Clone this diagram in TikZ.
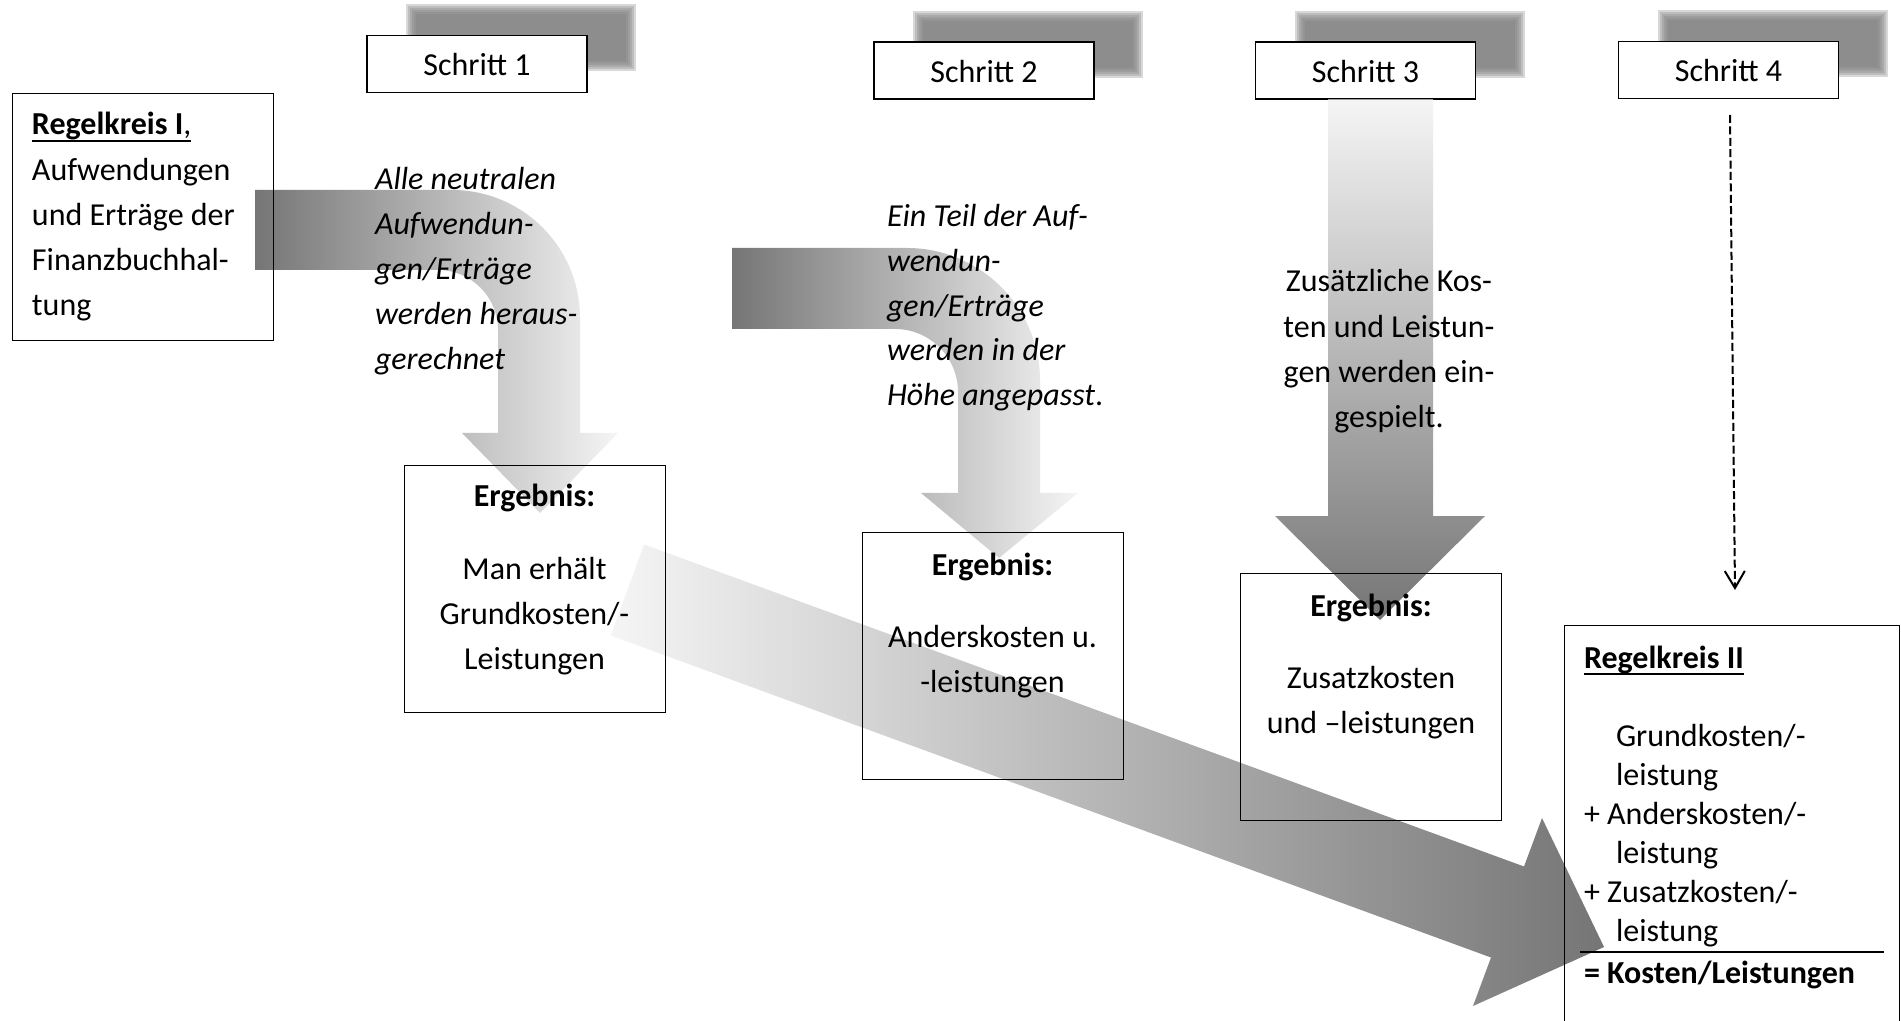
\documentclass[tikz,border=0pt]{standalone}
\usepackage{fontspec}
\setmainfont{Carlito}
\usetikzlibrary{arrows.meta}
\definecolor{gdark}{gray}{0.46}
\definecolor{glight}{gray}{0.96}
\definecolor{shadowg}{gray}{0.5}
\newcommand{\fs}{\fontsize{16pt}{22.5pt}\selectfont}
\newcommand{\myul}[1]{\setbox0=\hbox{#1}\rlap{\rule[-3.5pt]{\wd0}{1.2pt}}\box0}
\tikzset{
  txt/.style={font=\fs, inner sep=0pt, outer sep=0pt, yshift=-1.5pt},
  itxt/.style={font=\fs\itshape, inner sep=0pt, outer sep=0pt, yshift=-1.5pt},
  btxt/.style={font=\fs\bfseries, inner sep=0pt, outer sep=0pt, yshift=-1.5pt},
  frame/.style={draw=black, line width=0.7pt, inner sep=0pt, rectangle},
  stepbox/.style={frame, fill=white, minimum width=110pt, minimum height=28.5pt, font=\fs, text height=12pt, text depth=0pt},
  resbox/.style={frame, minimum width=130.5pt, minimum height=123.5pt, anchor=north west},
  shadowlayer/.style={fill=shadowg, fill opacity=0.3},
  gradh/.style={left color=gdark, right color=glight},
  gradbig/.style={left color=glight, right color=gdark},
  gradv/.style={top color=glight, bottom color=gdark},
  dasharrow/.style={line width=1pt, dash pattern=on 4pt off 1.7pt, -{Straight Barb[length=8.5pt,width=10pt]}},
}
\begin{document}
\begin{tikzpicture}[x=0.5pt, y=-0.5pt]
\useasboundingbox (0,0) rectangle (1901,1021);
\clip (0,0) rectangle (1901,1021);
\fill[white] (0,0) rectangle (1901,1021);

% blurred shadows behind the step boxes
\foreach \sx/\sy in {411/9, 918/16, 1300/16, 1663/15} {
  \foreach \d in {5,3,1,-1,-3,-5} {
    \fill[shadowlayer] (\sx-\d,\sy-\d) rectangle (\sx+220+\d,\sy+57+\d);
  }
}

% step boxes
\node[stepbox] (s1) at (477,64) {Schritt 1};
\node[stepbox] (s2) at (984,70.5) {Schritt 2};
\node[stepbox] (s3) at (1365.5,70.5) {Schritt 3};
\node[stepbox] (s4) at (1728.5,70) {Schritt 4};

% bent arrow 1
\shade[gradh] (255,190) -- (452,190) .. controls (522.7,190) and (580,247.3) .. (580,318)
  -- (580,433) -- (618,433) -- (540,513) -- (462,433) -- (498,433) -- (498,330)
  .. controls (498,296.9) and (471.1,270) .. (438,270) -- (255,270) -- cycle;

% bent arrow 2
\shade[gradh] (732,248) -- (907,248) .. controls (980.5,248) and (1040,307.5) .. (1040,381)
  -- (1040,493) -- (1078,493) -- (999,558) -- (921,493) -- (958,493) -- (958,392)
  .. controls (958,357.2) and (929.8,329) .. (895,329) -- (732,329) -- cycle;

% straight arrow 3
\shade[gradv] (1328,99.5) -- (1433,99.5) -- (1433,516) -- (1485,516) -- (1380,620)
  -- (1275,516) -- (1328,516) -- cycle;

% big diagonal arrow
\shade[gradbig] (644.2,544.5) -- (1524,866.5) -- (1542,818) -- (1604,947) -- (1473,1006)
  -- (1491,957.5) -- (610.8,635.5) -- cycle;

% Regelkreis I
\node[frame, minimum width=130.5pt, minimum height=123.5pt, anchor=north west] (rk1) at (12,93) {};
\node[txt, anchor=base west] (rk1a) at (32,132) {\myul{\textbf{Regelkreis I},}};
\node[txt, anchor=base west] (rk1b) at (32,177.5) {Aufwendungen};
\node[txt, anchor=base west] (rk1c) at (32,223) {und Erträge der};
\node[txt, anchor=base west] (rk1d) at (32,268) {Finanzbuchhal-};
\node[txt, anchor=base west] (rk1e) at (32,313) {tung};

% italic text step 1
\foreach \t [count=\i from 0] in {{Alle neutralen},{Aufwendun-},{gen/Erträge},{werden heraus-},{gerechnet}}
  \node[itxt, anchor=base west] (ta\i) at (375,187+45*\i) {\t};

% italic text step 2
\foreach \t [count=\i from 0] in {{Ein Teil der Auf-},{wendun-},{gen/Erträge},{werden in der}}
  \node[itxt, anchor=base west] (tb\i) at (887,224+44.6*\i) {\t};
\node[txt, anchor=base west] (tb4) at (887,402.5) {\textit{Höhe angepasst}.};

% text step 3
\foreach \t [count=\i from 0] in {{Zusätzliche Kos-},{ten und Leistun-},{gen werden ein-},{gespielt.}}
  \node[txt, anchor=base] (tc\i) at (1389,289+45.3*\i) {\t};

% result boxes
\node[resbox] (e1) at (404,465) {};
\node[btxt, anchor=base] (e1h) at (534.5,504) {Ergebnis:};
\node[txt, anchor=base] (e1a) at (534.5,576) {Man erhält};
\node[txt, anchor=base] (e1b) at (534.5,621) {Grundkosten/-};
\node[txt, anchor=base] (e1c) at (534.5,666) {Leistungen};

\node[resbox] (e2) at (862,532) {};
\node[btxt, anchor=base] (e2h) at (992.5,572) {Ergebnis:};
\node[txt, anchor=base] (e2a) at (992.5,644) {Anderskosten u.};
\node[txt, anchor=base] (e2b) at (992.5,689) {-leistungen};

\node[resbox] (e3) at (1240,573) {};
\node[btxt, anchor=base] (e3h) at (1371,613) {Ergebnis:};
\node[txt, anchor=base] (e3a) at (1371,685) {Zusatzkosten};
\node[txt, anchor=base] (e3b) at (1371,730) {und –leistungen};

% Regelkreis II
\node[frame, minimum width=167.5pt, minimum height=250pt, anchor=north west] (rk2) at (1564,625) {};
\node[btxt, anchor=base west] (rk2h) at (1584,665) {\myul{Regelkreis II}};
\node[txt, anchor=base west] (rk2a) at (1616,743) {Grundkosten/-};
\node[txt, anchor=base west] (rk2b) at (1616,782) {leistung};
\node[txt, anchor=base west] (rk2c) at (1584,821) {+ Anderskosten/-};
\node[txt, anchor=base west] (rk2d) at (1616,860) {leistung};
\node[txt, anchor=base west] (rk2e) at (1584,899) {+ Zusatzkosten/-};
\node[txt, anchor=base west] (rk2f) at (1616,938) {leistung};
\coordinate (rulel) at (1580,952);
\coordinate (ruler) at (1884,952);
\draw[line width=0.7pt] (rulel) -- (ruler);
\node[btxt, anchor=base west] (rk2g) at (1584,980) {= Kosten/Leistungen};

% dashed arrow step 4
\coordinate (dstart) at (1730,115);
\coordinate (dend) at (1735,590);
\draw[dasharrow] (dstart) -- (dend);
\end{tikzpicture}
\end{document}
